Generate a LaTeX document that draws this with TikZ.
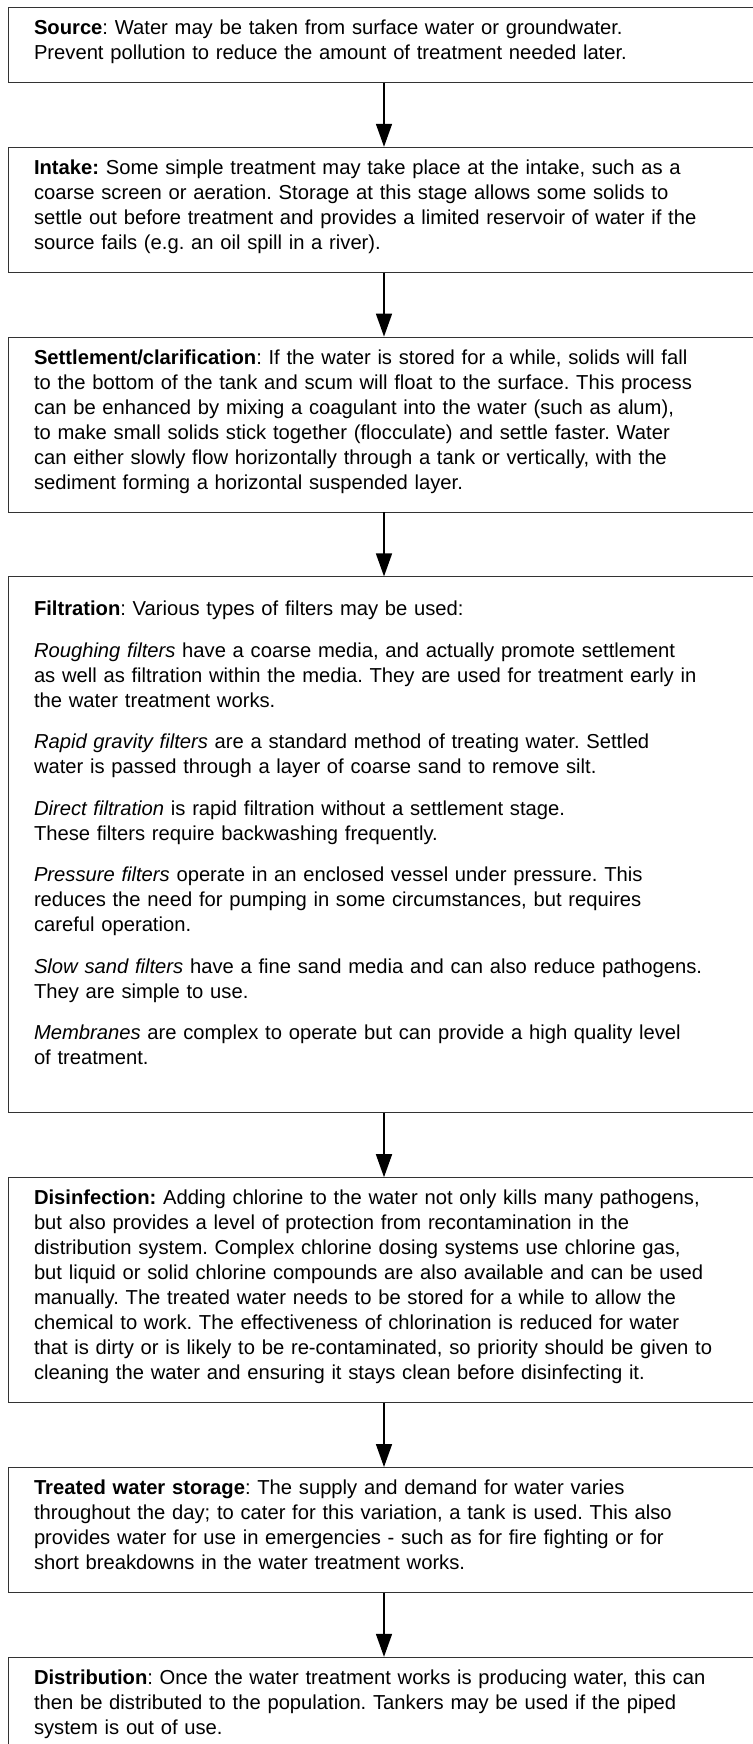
\documentclass[tikz,border=0pt]{standalone}
\usepackage{fontspec}
\setmainfont{Liberation Sans}
\usetikzlibrary{positioning,arrows.meta}
% 首行、末行的撑高
\newcommand{\tstrut}[1][27pt]{\rule{0pt}{#1}}
\newcommand{\bstrut}[1][23pt]{\rule[-#1]{0pt}{#1}}
\begin{document}
\frenchspacing
\begin{tikzpicture}[x=1pt,y=1pt,
  stage/.style={draw=black!80,line width=0.8pt,text width=700pt,
    inner xsep=26pt,inner ysep=0pt,align=left,
    font=\fontsize{20.2pt}{25pt}\selectfont},
  flow/.style={-{Triangle[length=23pt,width=16pt]},line width=1.5pt},
  node distance=64pt]
  % 画布范围
  \useasboundingbox (0,0) rectangle (752,-1744);
  % 水源
  \node[stage,anchor=north] (src) at (384,-7) {\tstrut\textbf{Source}: Water may be taken from surface water or groundwater.\\
    Prevent pollution to reduce the amount of treatment needed later.\bstrut};
  % 取水
  \node[stage,below=of src] (intk) {\tstrut\textbf{Intake:} Some simple treatment may take place at the intake, such as a\\
    coarse screen or aeration. Storage at this stage allows some solids to\\
    settle out before treatment and provides a limited reservoir of water if the\\
    source fails (e.g. an oil spill in a river).\bstrut};
  % 沉淀
  \node[stage,below=of intk] (settle) {\tstrut\textbf{Settlement/clarification}: If the water is stored for a while, solids will fall\\
    to the bottom of the tank and scum will float to the surface. This process\\
    can be enhanced by mixing a coagulant into the water (such as alum),\\
    to make small solids stick together (flocculate) and settle faster. Water\\
    can either slowly flow horizontally through a tank or vertically, with the\\
    sediment forming a horizontal suspended layer.\bstrut};
  % 过滤
  \node[stage,below=of settle] (filt) {\tstrut[39pt]\textbf{Filtration}: Various types of filters may be used:\\[16.5pt]
    \textit{Roughing filters} have a coarse media, and actually promote settlement\\
    as well as filtration within the media. They are used for treatment early in\\
    the water treatment works.\\[16.5pt]
    \textit{Rapid gravity filters} are a standard method of treating water. Settled\\
    water is passed through a layer of coarse sand to remove silt.\\[16.5pt]
    \textit{Direct filtration} is rapid filtration without a settlement stage.\\
    These filters require backwashing frequently.\\[16.5pt]
    \textit{Pressure filters} operate in an enclosed vessel under pressure. This\\
    reduces the need for pumping in some circumstances, but requires\\
    careful operation.\\[16.5pt]
    \textit{Slow sand filters} have a fine sand media and can also reduce pathogens.\\
    They are simple to use.\\[16.5pt]
    \textit{Membranes} are complex to operate but can provide a high quality level\\
    of treatment.\bstrut[48pt]};
  % 消毒
  \node[stage,below=of filt] (disinf) {\tstrut\textbf{Disinfection:} Adding chlorine to the water not only kills many pathogens,\\
    but also provides a level of protection from recontamination in the\\
    distribution system. Complex chlorine dosing systems use chlorine gas,\\
    but liquid or solid chlorine compounds are also available and can be used\\
    manually. The treated water needs to be stored for a while to allow the\\
    chemical to work. The effectiveness of chlorination is reduced for water\\
    that is dirty or is likely to be re-contaminated, so priority should be given to\\
    cleaning the water and ensuring it stays clean before disinfecting it.\bstrut};
  % 清水储存
  \node[stage,below=of disinf] (store) {\tstrut\textbf{Treated water storage}: The supply and demand for water varies\\
    throughout the day; to cater for this variation, a tank is used. This also\\
    provides water for use in emergencies - such as for fire fighting or for\\
    short breakdowns in the water treatment works.\bstrut};
  % 配水（下边框在画布外）
  \node[stage,below=of store] (distr) {\tstrut\textbf{Distribution}: Once the water treatment works is producing water, this can\\
    then be distributed to the population. Tankers may be used if the piped\\
    system is out of use.\bstrut[45pt]};
  % 箭头
  \foreach \a/\b in {src/intk,intk/settle,settle/filt,filt/disinf,disinf/store,store/distr}
    \draw[flow] (\a.south) -- (\b.north);
\end{tikzpicture}
\end{document}
